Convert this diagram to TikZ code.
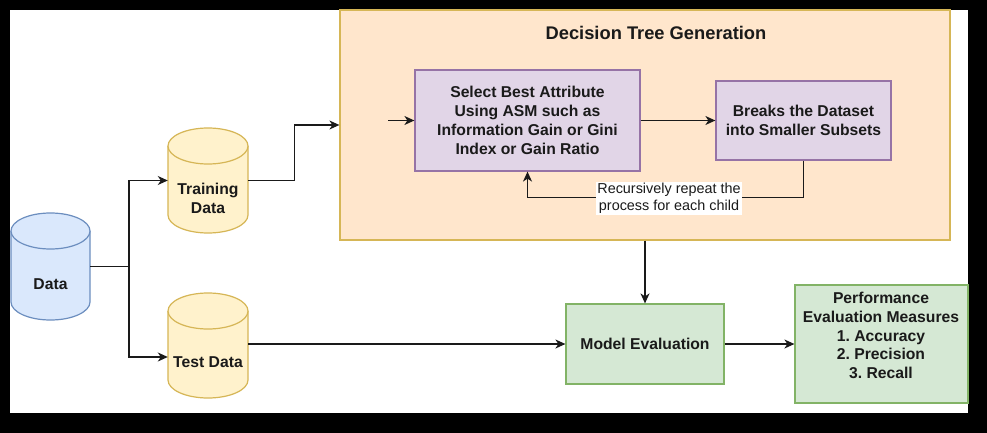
\documentclass[tikz,border=0pt]{standalone}
\usepackage{fontspec}
\setmainfont{Liberation Sans}
\usetikzlibrary{arrows.meta}
\frenchspacing
\definecolor{bluefill}{HTML}{DAE8FC}
\definecolor{bluedraw}{HTML}{6C8EBF}
\definecolor{yelfill}{HTML}{FFF2CC}
\definecolor{yeldraw}{HTML}{D6B656}
\definecolor{orfill}{HTML}{FFE6CC}
\definecolor{purfill}{HTML}{E1D5E7}
\definecolor{purdraw}{HTML}{9673A6}
\definecolor{grfill}{HTML}{D5E8D4}
\definecolor{grdraw}{HTML}{82B366}
\definecolor{inkc}{HTML}{1A1A1A}
\newcommand{\drawcyl}[5]{%
  \pgfmathsetmacro\cylrx{(#3-#1)/2}%
  \filldraw[#5] (#1,#2+18) arc[start angle=180,end angle=360,x radius=\cylrx,y radius=18]
     -- (#3,#4-18) arc[start angle=0,end angle=180,x radius=\cylrx,y radius=18] -- cycle;
  \draw[#5] (#1,#2+18) arc[start angle=180,end angle=0,x radius=\cylrx,y radius=18];
}
\tikzset{
  txt/.style={font=\bfseries\fontsize{15.7}{18.8}\selectfont, text=inkc, align=center, inner sep=0pt},
  box/.style={rectangle, line width=1.2pt, inner sep=0pt, txt},
  anchorbox/.style={rectangle, inner sep=0pt},
  conn/.style={draw=inkc, line width=1.4pt, -{Stealth[length=10pt,width=9pt,inset=3pt]}},
  plain/.style={draw=inkc, line width=1.4pt},
  bluecyl/.style={fill=bluefill, draw=bluedraw, line width=1.2pt},
  yelcyl/.style={fill=yelfill, draw=yeldraw, line width=1.2pt},
}
\begin{document}
\begin{tikzpicture}[x=1pt,y=-1pt]
\useasboundingbox (0,0) rectangle (987,433);
\fill[black] (0,0) rectangle (987,433);
\fill[white] (10,10) rectangle (968,413);

% cylinders
\drawcyl{11}{213}{90}{320}{bluecyl}
\drawcyl{168}{128}{248}{233}{yelcyl}
\drawcyl{168}{293}{248}{398}{yelcyl}
\node[anchorbox, minimum width=79pt, minimum height=107pt] (data) at (50.5,266.5) {};
\node[anchorbox, minimum width=80pt, minimum height=105pt] (train) at (208,180.5) {};
\node[anchorbox, minimum width=80pt, minimum height=105pt] (test) at (208,345.5) {};
\node[txt] (datat) at (50.5,284) {Data};
\node[txt] (traint) at (208,198) {Training\\Data};
\node[txt] (testt) at (208,362) {Test Data};

% decision tree generation container
\node[box, fill=orfill, draw=yeldraw, minimum width=610pt, minimum height=230pt] (dtg) at (645,125) {};
\node[txt, font=\bfseries\fontsize{18.3}{22}\selectfont] (title) at (656,33) {Decision Tree Generation};
\node[box, fill=purfill, draw=purdraw, minimum width=225pt, minimum height=101pt] (sel) at (527.5,120.5)
  {Select Best Attribute\\Using ASM such as\\Information Gain or Gini\\Index or Gain Ratio};
\node[box, fill=purfill, draw=purdraw, minimum width=175pt, minimum height=79pt] (brk) at (803.5,120.5)
  {Breaks the Dataset\\into Smaller Subsets};
\coordinate (inarr) at (388,120.5);

% evaluation
\node[box, fill=grfill, draw=grdraw, minimum width=158pt, minimum height=80pt] (model) at (645,344) {Model Evaluation};
\node[box, fill=grfill, draw=grdraw, minimum width=173pt, minimum height=118pt] (perf) at (881.5,344) {};
\node[txt] (perft) at (881,335.5) {Performance\\Evaluation Measures\\1. Accuracy\\2. Precision\\3. Recall};

% connectors
\draw[plain] (data.east) -- (129,266.5);
\draw[conn] (129,266.5) |- (train.west);
\draw[conn] (129,266.5) |- ([yshift=-11.5pt]test.west);
\draw[conn] (train.east) -- ++(46,0) |- (dtg.west);
\draw[conn] (inarr) -- (sel.west);
\draw[conn] (sel.east) -- (brk.west);
\draw[conn] (brk.south) -- ++(0,37) -| (sel.south);
\node[font=\fontsize{14.4}{17}\selectfont, text=inkc, fill=white, inner sep=1pt, align=center] (rec) at (669,198.5)
  {Recursively repeat the\\process for each child};
\draw[conn] (dtg.south -| model.north) -- (model.north);
\draw[conn] (test.east |- model.west) -- (model.west);
\draw[conn] (model.east) -- (perf.west);
\end{tikzpicture}
\end{document}
